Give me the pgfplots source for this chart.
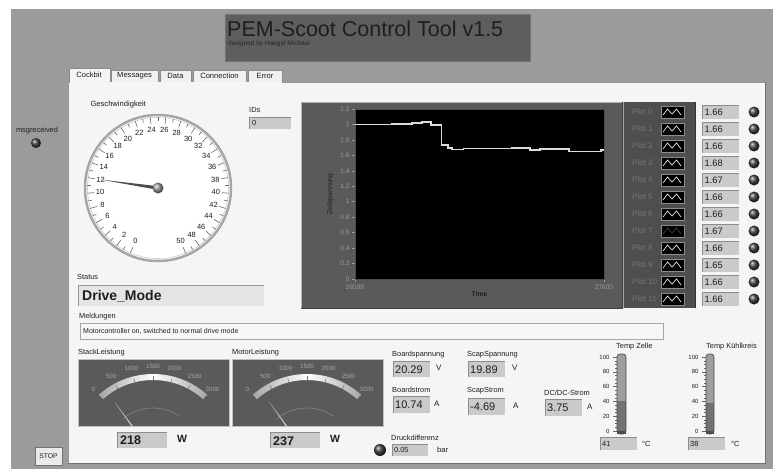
\documentclass[border=0pt]{standalone}
\usepackage{pgfplots}
\pgfplotsset{compat=1.18}
\usepackage{fontspec}
\setmainfont{Liberation Sans}
\newcommand\fs[1]{\fontsize{#1}{#1}\selectfont}
\definecolor{bgray}{HTML}{9B9B9B}
\definecolor{panel}{HTML}{F5F5F5}
\definecolor{titlebox}{HTML}{5E5E5E}
\definecolor{frame}{HTML}{5A5A5A}
\definecolor{legbg}{HTML}{4E4E4E}
\definecolor{boxgray}{HTML}{CACACA}
\definecolor{boxedge}{HTML}{8C8C8C}
\definecolor{tickgray}{HTML}{9A9A9A}
\definecolor{txt}{HTML}{1E1E1E}
\definecolor{plottxt}{HTML}{767676}
\definecolor{gaugetxt}{HTML}{A5A5A5}
\definecolor{tubebg}{HTML}{9E9E9E}
\definecolor{tubefill}{HTML}{727272}
\newcommand\numbox[4]{\fill[boxgray] (#1,#2) rectangle (#3,#4); \draw[boxedge,line width=0.8] (#1,#4) -- (#1,#2) -- (#3,#2);}
\pgfplotstableread{
x y
26599 2.00
26746 2.01
26827 2.02
26867 2.03
26905 1.99
26947 1.73
26974 1.70
26990 1.675
27035 1.69
27229 1.70
27302 1.67
27343 1.68
27460 1.65
27588 1.665
27600 1.665
}\cellvolt
\begin{document}
\begin{tikzpicture}
\begin{scope}[x=1pt,y=-1pt]
\path[use as bounding box] (0,0) rectangle (773,469);
\fill[white] (0,0) rectangle (773,469);
\fill[bgray] (11,9) rectangle (773,469);
% title
\fill[titlebox] (225,14) rectangle (530,61);
\draw[black!55] (225,14) rectangle (530,61);
\node[anchor=west, inner sep=0, text=txt, font=\fs{21.5}] at (227,29) {PEM-Scoot Control Tool v1.5};
\node[anchor=west, inner sep=0, text=black!85, font=\fs{6.5}] at (228,44) {designed by Haegel Michael};
% tabs
\foreach \xa/\xb/\t in {111/158/Messages,160/191/Data,193/246/Connection,248/282/Error}{
  \fill[white!94!black] (\xa,70) rectangle (\xb,82);
  \draw[black!45] (\xa,82) -- (\xa,70) -- (\xb,70) -- (\xb,82);
  \node[font=\fs{7.6}, text=txt] at ({(\xa+\xb)/2},76) {\t};
}
% panel
\fill[panel] (68,82) rectangle (765,463);
\draw[black!40] (68,463) -- (68,82) -- (110,82);
\draw[black!40] (282,82) -- (765,82);
\draw[black!55] (765,82) -- (765,463) -- (68,463);
\fill[panel] (69,68) rectangle (110,83);
\draw[black!45] (69,83) -- (69,68) -- (110,68) -- (110,82);
\node[font=\fs{7.6}, text=txt] at (89,75) {Cockbit};
% msgreceived
\node[font=\fs{7.4}, text=txt] at (37,131) {msgreceived};
\shade[ball color=black!75] (36,143) circle (5);
% STOP button
\fill[white!92!black] (35,447) rectangle (62,465);
\draw[black!55] (35,447) rectangle (62,465);
\node[font=\fs{6.8}, text=txt] at (48.5,456) {STOP};
% speed gauge
\node[anchor=west, font=\fs{7.6}, text=txt] at (87,105) {Geschwindigkeit};
\begin{scope}[shift={(158,188)}]
 \fill[white] (0,0) circle (74);
 \draw[black!35, line width=2.5pt] (0,0) circle (73);
 \draw[black!20, line width=0.6pt] (0,0) circle (70.5);
 \foreach \v in {0,...,50}{
   \pgfmathsetmacro\a{6.28*\v-247}
   \pgfmathsetmacro\r{mod(\v,2)==0 ? 64 : 67}
   \draw[black!60, line width=0.6pt] (\a:\r) -- (\a:71);
 }
 \foreach \v in {0,2,...,50}{
   \pgfmathsetmacro\a{6.28*\v-247}
   \node[font=\fs{7.5}, text=txt, inner sep=0] at (\a:58) {\v};
 }
 \pgfmathsetmacro\na{6.28*12-247}
 \fill[black!70] ({\na+90}:1.8) -- (\na:58) -- ({\na-90}:1.8) -- cycle;
 \shade[ball color=black!40] (0,0) circle (5.5);
\end{scope}
% IDs
\node[anchor=west, font=\fs{7.4}, text=txt, inner sep=0] at (249,110) {IDs};
\numbox{249}{117}{291}{129}
\node[anchor=west, font=\fs{7.4}, text=txt, inner sep=0] at (252,123) {0};
% graph frame + legend
\fill[frame] (301,102) rectangle (622,308);
\draw[black!30] (301,308) -- (301,102) -- (622,102);
\draw[black!75] (622,102) -- (622,308) -- (301,308);
\fill[legbg] (623,102) rectangle (695,308);
\draw[black!35, line width=1pt] (623.5,102) -- (623.5,308);
\draw[black!80] (695,102) -- (695,308);
\foreach \i/\val in {0/1.66,1/1.66,2/1.66,3/1.68,4/1.67,5/1.66,6/1.66,7/1.67,8/1.66,9/1.65,10/1.66,11/1.66}{
  \pgfmathsetmacro\yy{112+17*\i}
  \node[anchor=west, font=\fs{8}, text=plottxt, inner sep=0] at (632,\yy) {Plot \i};
  \fill[black] (661,\yy-6) rectangle (684,\yy+6);
  \draw[black!45] (661,\yy-6) rectangle (684,\yy+6);
  \pgfmathsetmacro\zz{\i==7 ? 25 : 90}
  \draw[white!\zz!black, line width=0.7pt] (663,\yy+3) -- (667.5,\yy-3) -- (672,\yy+2) -- (676.5,\yy-3) -- (681,\yy+3);
  \numbox{702}{\yy-6.5}{739}{\yy+6.5}
  \node[anchor=west, font=\fs{9.3}, text=txt, inner sep=0] at (704.5,\yy) {\val};
  \shade[ball color=black!75] (754,\yy) circle (5.5);
}
% status
\node[anchor=west, font=\fs{7.4}, text=txt, inner sep=0] at (77,277) {Status};
\fill[black!10] (78,285) rectangle (264,306);
\draw[black!40] (78,306) -- (78,285) -- (264,285);
\node[anchor=west, font=\fs{14}\bfseries, text=txt, inner sep=0] at (82,296) {Drive\_Mode};
% Meldungen
\node[anchor=west, font=\fs{7.4}, text=txt, inner sep=0] at (79,317) {Meldungen};
\fill[white!97!black] (80,323) rectangle (663,339);
\draw[black!35] (80,323) rectangle (663,339);
\node[anchor=west, font=\fs{7}, text=txt, inner sep=0] at (83,331.5) {Motorcontroller on, switched to normal drive mode};
% power gauges
\foreach \cx/\px/\val/\lab in {153/78/218/StackLeistung, 307/232/237/MotorLeistung}{
  \node[anchor=west, font=\fs{7.4}, text=txt, inner sep=0] at (\px,353) {\lab};
  \fill[frame] (\px,359) rectangle (\px+151,426);
  \draw[black!25] (\px,359) rectangle (\px+151,426);
  \begin{scope}
  \clip (\px,359) rectangle (\px+151,426);
  \begin{scope}[shift={(\cx,455)}]
    \shade[left color=black!35, right color=black!35, middle color=white] (228:75) arc[start angle=228,end angle=312,radius=75] -- (312:81) arc[start angle=312,end angle=228,radius=81] -- cycle;
    \foreach \t in {0,500,...,3000}{
      \pgfmathsetmacro\a{228+0.028*\t}
      \draw[black!55, line width=0.5pt] (\a:75) -- (\a:79);
      \node[font=\fs{6.2}, text=gaugetxt, inner sep=0] at (\a:89) {\t};
    }
    \draw[black!48, line width=0.6pt] (230:47) arc[start angle=230,end angle=305,radius=47];
    \pgfmathsetmacro\na{228+0.028*\val}
    \fill[black!22] ({\na+90}:1.5) -- ({\na}:66) -- ({\na-90}:1.5) -- cycle;
  \end{scope}
  \end{scope}
}
\numbox{117}{432}{167}{448}
\node[anchor=west, font=\fs{12.5}\bfseries, text=txt, inner sep=0] at (120,440.5) {218};
\node[anchor=west, font=\fs{10.5}\bfseries, text=txt, inner sep=0] at (177,439) {W};
\numbox{270}{432}{320}{448}
\node[anchor=west, font=\fs{12.5}\bfseries, text=txt, inner sep=0] at (273,441) {237};
\node[anchor=west, font=\fs{10.5}\bfseries, text=txt, inner sep=0] at (330,439) {W};
\shade[ball color=black!75] (380,450) circle (6);
% numeric indicators
\node[anchor=west, font=\fs{7.4}, text=txt, inner sep=0] at (392,355) {Boardspannung};
\numbox{393}{361}{430}{377}
\node[anchor=west, font=\fs{11}, text=txt, inner sep=0] at (395,369.5) {20.29};
\node[anchor=west, font=\fs{8}, text=txt, inner sep=0] at (436,368) {V};
\node[anchor=west, font=\fs{7.4}, text=txt, inner sep=0] at (467,355) {ScapSpannung};
\numbox{468}{361}{505}{377}
\node[anchor=west, font=\fs{11}, text=txt, inner sep=0] at (470,370) {19.89};
\node[anchor=west, font=\fs{8}, text=txt, inner sep=0] at (512,368) {V};
\node[anchor=west, font=\fs{7.4}, text=txt, inner sep=0] at (392,390) {Boardstrom};
\numbox{393}{396}{430}{413}
\node[anchor=west, font=\fs{11}, text=txt, inner sep=0] at (395,405) {10.74};
\node[anchor=west, font=\fs{8}, text=txt, inner sep=0] at (434,404) {A};
\node[anchor=west, font=\fs{7.4}, text=txt, inner sep=0] at (467,391) {ScapStrom};
\numbox{468}{398}{505}{415}
\node[anchor=west, font=\fs{11}, text=txt, inner sep=0] at (470,407) {-4.69};
\node[anchor=west, font=\fs{8}, text=txt, inner sep=0] at (513,406) {A};
\node[anchor=west, font=\fs{7.4}, text=txt, inner sep=0] at (544,393) {DC/DC-Strom};
\numbox{545}{399}{582}{416}
\node[anchor=west, font=\fs{11}, text=txt, inner sep=0] at (547,408) {3.75};
\node[anchor=west, font=\fs{8}, text=txt, inner sep=0] at (587,407) {A};
\node[anchor=west, font=\fs{7.4}, text=txt, inner sep=0] at (391,438) {Druckdifferenz};
\numbox{392}{444}{428}{456}
\node[anchor=west, font=\fs{7.4}, text=txt, inner sep=0] at (394,450) {0.05};
\node[anchor=west, font=\fs{7.6}, text=txt, inner sep=0] at (437,450) {bar};
% thermometers
\node[anchor=west, font=\fs{7.4}, text=txt, inner sep=0] at (616,347) {Temp Zelle};
\node[anchor=west, font=\fs{7.4}, text=txt, inner sep=0] at (706,347) {Temp Kühlkreis};
\fill[tubebg, rounded corners=3] (617,354) rectangle (626,434);
\fill[tubebg, rounded corners=3] (706,354) rectangle (714,434);
\numbox{600}{437}{637}{450}
\node[anchor=west, font=\fs{7.4}, text=txt, inner sep=0] at (602,443.5) {41};
\node[anchor=west, font=\fs{7.4}, text=txt, inner sep=0] at (642,444) {°C};
\numbox{688}{437}{725}{450}
\node[anchor=west, font=\fs{7.4}, text=txt, inner sep=0] at (690,443.5) {38};
\node[anchor=west, font=\fs{7.4}, text=txt, inner sep=0] at (731,444) {°C};
\end{scope}
% main chart
\begin{axis}[at={(355pt,-279pt)}, anchor=south west, scale only axis, width=249pt, height=170pt,
  xmin=26599, xmax=27600, ymin=0, ymax=2.2,
  scaled x ticks=false, scaled y ticks=false,
  axis background/.style={fill=black},
  axis line style={draw=black!70},
  xtick={26599,27600}, xticklabels={26599,27600},
  ytick={0,0.2,0.4,0.6,0.8,1,1.2,1.4,1.6,1.8,2,2.2},
  yticklabels={0,0.2,0.4,0.6,0.8,1,1.2,1.4,1.6,1.8,2,2.2},
  tick label style={font=\fs{6.5}, text=tickgray},
  every tick/.style={tickgray, line width=0.5pt},
  tick align=outside, major tick length=3pt,
  ytick pos=left, xtick pos=bottom,
  xlabel={Time}, ylabel={Zellspannung},
  xlabel style={font=\fs{6.8}\bfseries, text=txt, yshift=4pt},
  ylabel style={font=\fs{6.8}, text=txt},
  yticklabel style={xshift=1pt},
  xticklabel style={yshift=1pt}]
\addplot[const plot, draw=white!86!black, line width=1.8pt] table[x=x,y=y] {\cellvolt};
\end{axis}
% thermometers
\begin{axis}[at={(617pt,-431pt)}, anchor=south west, scale only axis, width=9pt, height=74pt,
  xmin=0, xmax=1, ymin=0, ymax=100, axis x line=none, axis y line*=left, y axis line style={draw=none},
  ytick={0,20,40,60,80,100}, minor y tick num=3, tick align=outside, major tick length=4pt, minor tick length=2pt,
  every tick/.style={black!60, line width=0.4pt}, yticklabel style={font=\fs{6}, text=txt},
  /pgf/number format/assume math mode=true]
\addplot[fill=tubefill, draw=none] coordinates {(0,41) (1,41)} \closedcycle;
\end{axis}
\begin{axis}[at={(706pt,-431pt)}, anchor=south west, scale only axis, width=8pt, height=74pt,
  xmin=0, xmax=1, ymin=0, ymax=100, axis x line=none, axis y line*=left, y axis line style={draw=none},
  ytick={0,20,40,60,80,100}, minor y tick num=3, tick align=outside, major tick length=4pt, minor tick length=2pt,
  every tick/.style={black!60, line width=0.4pt}, yticklabel style={font=\fs{6}, text=txt},
  /pgf/number format/assume math mode=true]
\addplot[fill=tubefill, draw=none] coordinates {(0,38) (1,38)} \closedcycle;
\end{axis}
\begin{scope}[x=1pt,y=-1pt]
\draw[black!70, rounded corners=3, line width=0.7pt] (617,354) rectangle (626,434);
\draw[black!70, rounded corners=3, line width=0.7pt] (706,354) rectangle (714,434);
\fill[black!70] (617,431) rectangle (626,434);
\fill[black!70] (706,431) rectangle (714,434);
\end{scope}
\end{tikzpicture}
\end{document}
